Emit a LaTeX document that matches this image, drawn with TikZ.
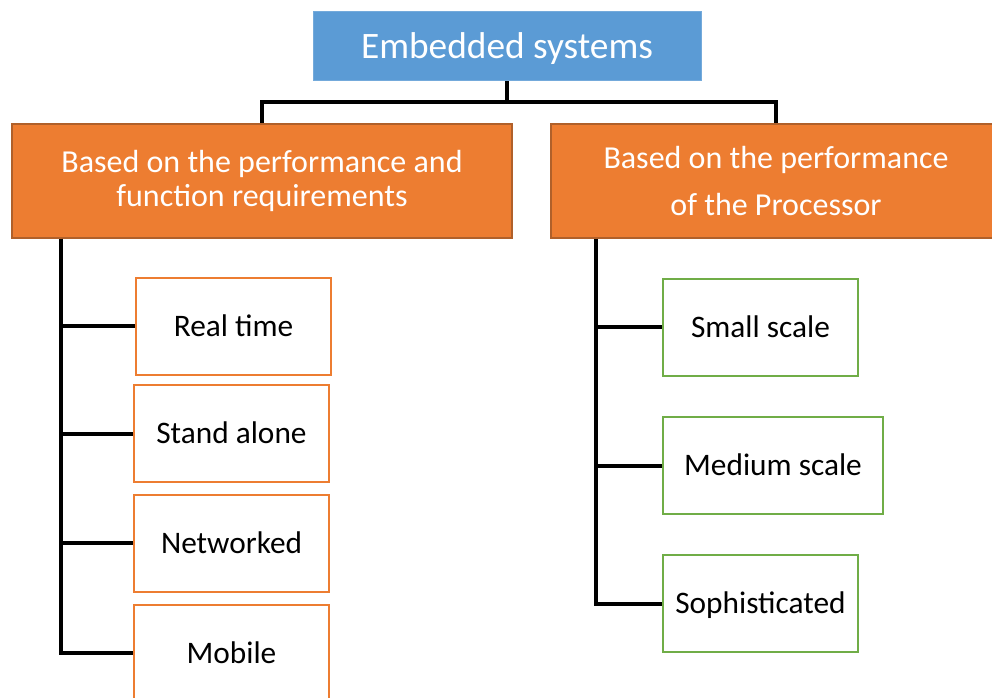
\documentclass[tikz,border=0pt]{standalone}
\usepackage{fontspec}
\setmainfont{Carlito}
\usetikzlibrary{calc}
\definecolor{topblue}{HTML}{5B9BD5}
\definecolor{catorange}{HTML}{ED7D31}
\definecolor{catedge}{HTML}{B0602A}
\definecolor{leafgreen}{HTML}{70AD47}
\tikzset{
  topbox/.style={fill=topblue, draw=topblue!85!white, line width=0.75pt, text=white,
    minimum width=291pt, minimum height=51.75pt, inner sep=0pt,
    font=\fontsize{28pt}{33pt}\selectfont, text height=18pt, text depth=0pt},
  catbox/.style={fill=catorange, draw=catedge, line width=1.5pt, text=white,
    minimum height=85.5pt, inner sep=0pt, align=center},
  leafbox/.style={fill=white, line width=1.5pt, minimum width=146.25pt,
    minimum height=72.75pt, inner sep=0pt,
    font=\fontsize{23.5pt}{28pt}\selectfont, text height=15.2pt, text depth=0pt},
  orangeleaf/.style={leafbox, draw=catorange},
  greenleaf/.style={leafbox, draw=leafgreen},
  wire/.style={line width=3pt, draw=black}
}
\begin{document}
\begin{tikzpicture}[x=0.75pt, y=-0.75pt]
\useasboundingbox (0,0) rectangle (992,698);

% root
\node[topbox] (top) at (507,46.5) {Embedded systems};

% two classification headings
\node[catbox, minimum width=375pt, font=\fontsize{24pt}{25.3pt}\selectfont]
  (L) at (262,181) {Based on the performance and\\function requirements};
\node[catbox, minimum width=337.5pt, font=\fontsize{24pt}{35pt}\selectfont]
  (R) at (776,181) {Based on the performance\\of the Processor};

% leaves under the first heading
\node[orangeleaf] (rt)  at (233.5,326.5) {Real time};
\node[orangeleaf] (sa)  at (231.5,433.5) {Stand alone};
\node[orangeleaf] (nw)  at (231.5,543)   {Networked};
\node[orangeleaf] (mob) at (231.5,653)   {Mobile};

% leaves under the second heading
\node[greenleaf] (ss) at (760.5,327.5) {Small scale};
\node[greenleaf, minimum width=165pt] (ms) at (773,465.5) {Medium scale};
\node[greenleaf] (so) at (760.5,603.5) {Sophisticated};

% root to headings
\coordinate (hub) at ($(top.south)+(0,21)$);
\draw[wire] (top.south) -- (hub);
\draw[wire] (L.north) |- (hub) -| (R.north);

% left bus
\coordinate (Lbus) at ($(L.south west)+(50,0)$);
\draw[wire] (Lbus) |- (mob.west);
\draw[wire] (Lbus) |- (rt.west);
\draw[wire] (Lbus) |- (sa.west);
\draw[wire] (Lbus) |- (nw.west);

% right bus
\coordinate (Rbus) at ($(R.south west)+(46,0)$);
\draw[wire] (Rbus) |- (so.west);
\draw[wire] (Rbus) |- (ss.west);
\draw[wire] (Rbus) |- (ms.west);
\end{tikzpicture}
\end{document}
